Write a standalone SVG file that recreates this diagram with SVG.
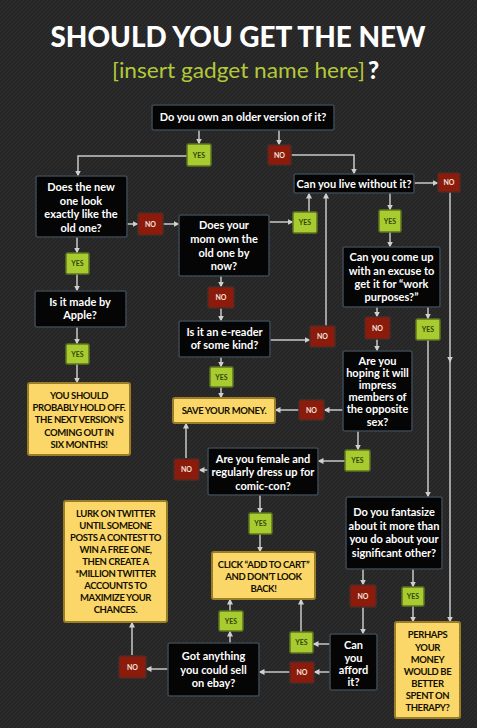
<svg xmlns="http://www.w3.org/2000/svg" width="477" height="728" viewBox="0 0 477 728">
<style>
.q{fill:#050505;stroke:#3b4650;stroke-width:1.6}
.a{fill:#fbd76a;stroke:#9a7d27;stroke-width:2}
.y{fill:#a8cc30;stroke:#5e7420;stroke-width:1.5}
.n{fill:#8c1b0b;stroke:#4d2c28;stroke-width:1.5}
.qt{font-family:Lato,"Open Sans",sans-serif;font-weight:700;font-size:11px;fill:#fff;text-anchor:middle}
.at{font-family:Lato,"Open Sans",sans-serif;font-weight:700;font-size:9.5px;letter-spacing:-0.4px;fill:#141000;text-anchor:middle}
.yt{font-family:Lato,"Open Sans",sans-serif;font-weight:700;font-size:7px;fill:#33470c;text-anchor:middle}
.nt{font-family:Lato,"Open Sans",sans-serif;font-weight:700;font-size:7px;fill:#f3e3df;text-anchor:middle}
#connectors path{fill:none;stroke:#c9c9c9;stroke-width:1.5;marker-end:url(#ar)}
</style>
<defs>
<pattern id="bgp" width="4" height="4" patternUnits="userSpaceOnUse">
<rect width="4" height="4" fill="#262626"/>
<path d="M-1,1 L1,-1 M0,4 L4,0 M3,5 L5,3" stroke="#2f2f2f" stroke-width="1"/>
</pattern>
<marker id="ar" viewBox="0 0 6 6" refX="5.5" refY="3" markerWidth="6" markerHeight="6" markerUnits="userSpaceOnUse" orient="auto">
<path d="M0,0 L6,3 L0,6 Z" fill="#d0d0d0"/>
</marker>
</defs>
<rect width="477" height="728" fill="url(#bgp)"/>
<g id="title">
<text x="238" y="47" font-family="Lato,'Open Sans',sans-serif" font-weight="900" font-size="28.5" fill="#fff" text-anchor="middle" textLength="375" lengthAdjust="spacingAndGlyphs">SHOULD YOU GET THE NEW</text>
<text x="112" y="78" font-family="Lato,'Open Sans',sans-serif" font-weight="400" font-size="21" fill="#b3c93a" textLength="253" lengthAdjust="spacingAndGlyphs">[insert gadget name here]</text>
<text x="368" y="79" font-family="Lato,'Open Sans',sans-serif" font-weight="900" font-size="24" fill="#fff">?</text>
</g>
<g id="connectors">
<path d="M199,130 V144"/>
<path d="M187,156 H78 V176"/>
<path d="M279,130 V145"/>
<path d="M291,155 H354 V174"/>
<path d="M127,224 H138"/>
<path d="M163,224 H179"/>
<path d="M269,222 H293"/>
<path d="M309,212 V193"/>
<path d="M221,276 V287"/>
<path d="M221,308 V321"/>
<path d="M270,340 H310"/>
<path d="M326,326 V193"/>
<path d="M221,357 V367"/>
<path d="M221,387 V398"/>
<path d="M414,183 H438"/>
<path d="M450,192 V362"/>
<path d="M450,360 V622"/>
<path d="M390,193 V210"/>
<path d="M390,232 V247"/>
<path d="M377,307 V317"/>
<path d="M377,339 V351"/>
<path d="M428,307 V319"/>
<path d="M428,340 V497"/>
<path d="M343,410 H324"/>
<path d="M299,410 H275"/>
<path d="M358,431 V450"/>
<path d="M345,461 H318"/>
<path d="M208,470 H199"/>
<path d="M186,458 V423"/>
<path d="M260,495 V513"/>
<path d="M260,534 V552"/>
<path d="M230,643 V631"/>
<path d="M230,611 V599"/>
<path d="M330,644 H313"/>
<path d="M301,632 V599"/>
<path d="M330,672 H314"/>
<path d="M290,672 H259"/>
<path d="M168,669 H146"/>
<path d="M132,655 V622"/>
<path d="M77,237 V253"/>
<path d="M77,274 V291"/>
<path d="M77,327 V344"/>
<path d="M77,364 V383"/>
<path d="M363,569 V585"/>
<path d="M363,607 V634"/>
<path d="M413,569 V587"/>
<path d="M413,606 V622"/>
</g>
<g id="q-own"><rect class="q" x="152" y="105" width="182" height="25" rx="2"/><text class="qt" x="243" y="121">Do you own an older version of it?</text></g>
<g id="t-yes1"><rect class="y" x="187" y="144" width="24" height="22" rx="1.5"/><text class="yt" x="199" y="157.5">YES</text></g>
<g id="t-no1"><rect class="n" x="268" y="145" width="23" height="20" rx="1.5"/><text class="nt" x="279.5" y="157.5">NO</text></g>
<g id="q-look"><rect class="q" x="36" y="176" width="91" height="61" rx="2"/>
<text class="qt" x="81" y="191">Does the new</text><text class="qt" x="81" y="205">one look</text><text class="qt" x="81" y="218">exactly like the</text><text class="qt" x="81" y="232">old one?</text></g>
<g id="t-no2"><rect class="n" x="138" y="213" width="25" height="22" rx="1.5"/><text class="nt" x="150.5" y="226.5">NO</text></g>
<g id="q-mom"><rect class="q" x="179" y="215" width="90" height="61" rx="2"/>
<text class="qt" x="224" y="229">Does your</text><text class="qt" x="224" y="243">mom own the</text><text class="qt" x="224" y="257">old one by</text><text class="qt" x="224" y="270">now?</text></g>
<g id="t-yes2"><rect class="y" x="293" y="212" width="24" height="21" rx="1.5"/><text class="yt" x="305" y="225">YES</text></g>
<g id="q-live"><rect class="q" x="294" y="174" width="120" height="19" rx="2"/><text class="qt" x="354" y="187.5">Can you live without it?</text></g>
<g id="t-no3"><rect class="n" x="438" y="173" width="22" height="19" rx="1.5"/><text class="nt" x="449" y="185">NO</text></g>
<g id="t-yes3"><rect class="y" x="379" y="210" width="22" height="22" rx="1.5"/><text class="yt" x="390" y="223.5">YES</text></g>
<g id="t-yes4"><rect class="y" x="66" y="253" width="23" height="21" rx="1.5"/><text class="yt" x="77.5" y="266">YES</text></g>
<g id="q-apple"><rect class="q" x="35" y="291" width="91" height="36" rx="2"/>
<text class="qt" x="80" y="306">Is it made by</text><text class="qt" x="80" y="319">Apple?</text></g>
<g id="t-yes5"><rect class="y" x="66" y="344" width="23" height="20" rx="1.5"/><text class="yt" x="77.5" y="356.5">YES</text></g>
<g id="a-hold"><rect class="a" x="28" y="383" width="102" height="72" rx="2"/>
<text class="at" x="79" y="398.5">YOU SHOULD</text><text class="at" x="79" y="410.5">PROBABLY  HOLD OFF.</text><text class="at" x="79" y="422.5">THE NEXT VERSION’S</text><text class="at" x="79" y="435.5">COMING OUT IN</text><text class="at" x="79" y="447.5">SIX MONTHS!</text></g>
<g id="t-no4"><rect class="n" x="208" y="287" width="26" height="21" rx="1.5"/><text class="nt" x="221" y="300">NO</text></g>
<g id="q-ereader"><rect class="q" x="179" y="321" width="91" height="36" rx="2"/>
<text class="qt" x="224.5" y="336">Is it an e-reader</text><text class="qt" x="224.5" y="349">of some kind?</text></g>
<g id="t-no5"><rect class="n" x="310" y="326" width="25" height="21" rx="1.5"/><text class="nt" x="322.5" y="339">NO</text></g>
<g id="t-yes6"><rect class="y" x="210" y="367" width="23" height="20" rx="1.5"/><text class="yt" x="221.5" y="379.5">YES</text></g>
<g id="q-excuse"><rect class="q" x="343" y="247" width="97" height="60" rx="2"/>
<text class="qt" x="391.5" y="261">Can you come up</text><text class="qt" x="391.5" y="275">with an excuse to</text><text class="qt" x="391.5" y="288">get it for “work</text><text class="qt" x="391.5" y="301">purposes?”</text></g>
<g id="t-no6"><rect class="n" x="365" y="317" width="25" height="22" rx="1.5"/><text class="nt" x="377.5" y="330.5">NO</text></g>
<g id="t-yes7"><rect class="y" x="416" y="319" width="24" height="21" rx="1.5"/><text class="yt" x="428" y="332">YES</text></g>
<g id="q-impress"><rect class="q" x="343" y="351" width="69" height="80" rx="2"/>
<text class="qt" x="377.5" y="365">Are you</text><text class="qt" x="377.5" y="377">hoping it will</text><text class="qt" x="377.5" y="389">impress</text><text class="qt" x="377.5" y="401">members of</text><text class="qt" x="377.5" y="413">the opposite</text><text class="qt" x="377.5" y="426">sex?</text></g>
<g id="a-save"><rect class="a" x="173" y="398" width="102" height="25" rx="2"/><text class="at" x="224" y="413.5">SAVE YOUR MONEY.</text></g>
<g id="t-no7"><rect class="n" x="299" y="400" width="25" height="20" rx="1.5"/><text class="nt" x="311.5" y="412.5">NO</text></g>
<g id="t-yes8"><rect class="y" x="345" y="450" width="25" height="21" rx="1.5"/><text class="yt" x="357.5" y="463">YES</text></g>
<g id="q-comic"><rect class="q" x="208" y="448" width="110" height="47" rx="2"/>
<text class="qt" x="263" y="463">Are you female and</text><text class="qt" x="263" y="476">regularly dress up for</text><text class="qt" x="263" y="490">comic-con?</text></g>
<g id="t-no8"><rect class="n" x="174" y="459" width="25" height="21" rx="1.5"/><text class="nt" x="186.5" y="472">NO</text></g>
<g id="t-yes9"><rect class="y" x="249" y="513" width="23" height="21" rx="1.5"/><text class="yt" x="260.5" y="526">YES</text></g>
<g id="a-cart"><rect class="a" x="212" y="552" width="103" height="47" rx="2"/>
<text class="at" x="263.5" y="567.5">CLICK  “ADD TO CART”</text><text class="at" x="263.5" y="579.5">AND DON’T LOOK</text><text class="at" x="263.5" y="591.5">BACK!</text></g>
<g id="a-lurk"><rect class="a" x="64" y="501" width="103" height="121" rx="2"/>
<text class="at" x="115.5" y="516.5">LURK ON TWITTER</text><text class="at" x="115.5" y="528.5">UNTIL SOMEONE</text><text class="at" x="115.5" y="541">POSTS A CONTEST TO</text><text class="at" x="115.5" y="552.5">WIN A FREE ONE,</text><text class="at" x="115.5" y="564.5">THEN CREATE A</text><text class="at" x="115.5" y="576.5">*MILLION TWITTER</text><text class="at" x="115.5" y="589">ACCOUNTS TO</text><text class="at" x="115.5" y="600.5">MAXIMIZE YOUR</text><text class="at" x="115.5" y="613">CHANCES.</text></g>
<g id="q-fantasize"><rect class="q" x="346" y="497" width="96" height="72" rx="2"/>
<text class="qt" x="394" y="516">Do you fantasize</text><text class="qt" x="394" y="530">about it  more than</text><text class="qt" x="394" y="543">you do about your</text><text class="qt" x="394" y="557">significant other?</text></g>
<g id="t-no9"><rect class="n" x="350" y="585" width="26" height="22" rx="1.5"/><text class="nt" x="363" y="598.5">NO</text></g>
<g id="t-yes10"><rect class="y" x="402" y="587" width="22" height="19" rx="1.5"/><text class="yt" x="413" y="599">YES</text></g>
<g id="a-therapy"><rect class="a" x="395" y="622" width="65" height="96" rx="2"/>
<text class="at" x="427.5" y="637.5">PERHAPS</text><text class="at" x="427.5" y="650.5">YOUR</text><text class="at" x="427.5" y="662.5">MONEY</text><text class="at" x="427.5" y="674.5">WOULD BE</text><text class="at" x="427.5" y="686.5">BETTER</text><text class="at" x="427.5" y="698.5">SPENT ON</text><text class="at" x="427.5" y="710.5">THERAPY?</text></g>
<g id="q-afford"><rect class="q" x="330" y="634" width="47" height="56" rx="2"/>
<text class="qt" x="353.5" y="649">Can</text><text class="qt" x="353.5" y="662">you</text><text class="qt" x="353.5" y="674">afford</text><text class="qt" x="353.5" y="686">it?</text></g>
<g id="t-yes11"><rect class="y" x="290" y="632" width="23" height="21" rx="1.5"/><text class="yt" x="301.5" y="645">YES</text></g>
<g id="t-no10"><rect class="n" x="290" y="662" width="24" height="21" rx="1.5"/><text class="nt" x="302" y="675">NO</text></g>
<g id="t-yes12"><rect class="y" x="219" y="611" width="24" height="20" rx="1.5"/><text class="yt" x="231" y="623.5">YES</text></g>
<g id="q-ebay"><rect class="q" x="168" y="643" width="91" height="53" rx="2"/>
<text class="qt" x="213.5" y="660">Got anything</text><text class="qt" x="213.5" y="674">you could sell</text><text class="qt" x="213.5" y="687">on ebay?</text></g>
<g id="t-no11"><rect class="n" x="119" y="656" width="27" height="22" rx="1.5"/><text class="nt" x="132.5" y="669.5">NO</text></g>
</svg>
